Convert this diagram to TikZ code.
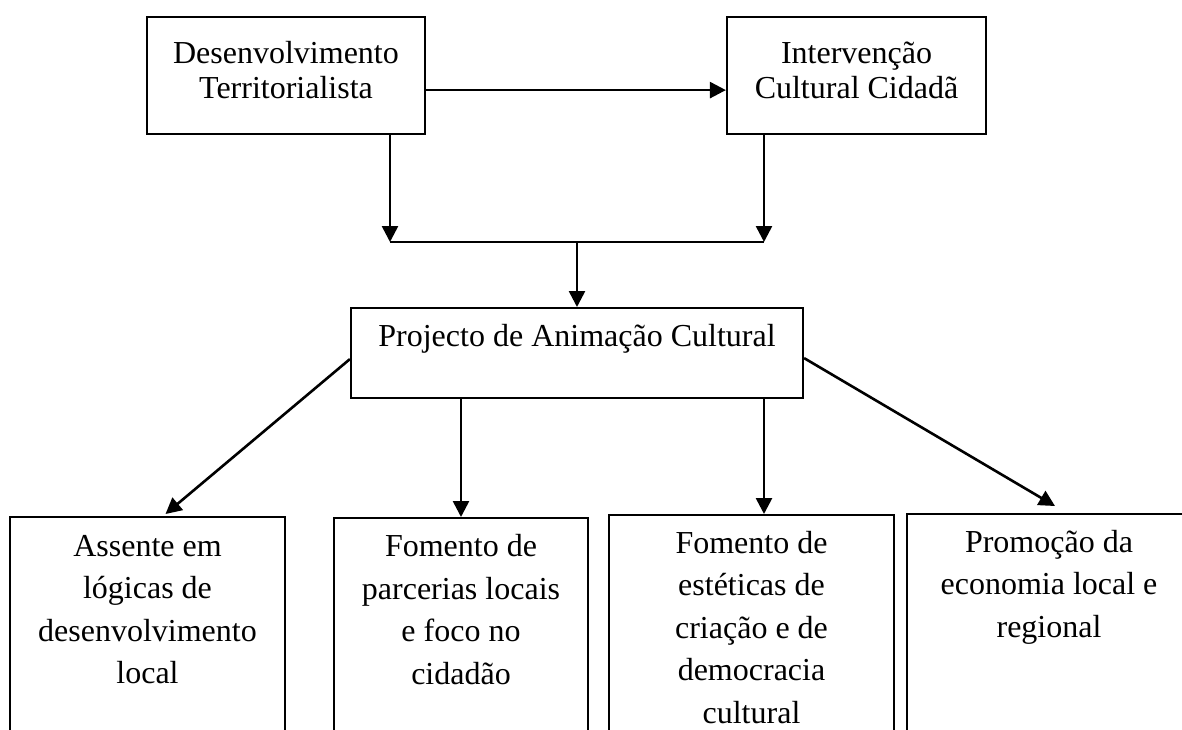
\documentclass[tikz,border=0pt]{standalone}
\usepackage{fontspec}
\setmainfont{Liberation Serif}
\usetikzlibrary{arrows.meta}
\tikzset{
  box/.style={draw, line width=1.1pt, inner sep=0pt, anchor=north},
  toptext/.style={align=center, anchor=base, inner sep=0pt, font=\fontsize{16}{17.5}\selectfont},
  boxtext/.style={align=center, anchor=base, inner sep=0pt, font=\fontsize{16}{21.25}\selectfont},
  arr/.style={line width=1.3pt, -{Triangle[length=8pt,width=8pt]}}
}

\begin{document}
\begin{tikzpicture}[x=0.5pt, y=-0.5pt]
  \clip (0,0) rectangle (1182,729);
  \fill[white] (0,0) rectangle (1182,729);

  % top row (text placed by its last baseline)
  \node[box, minimum width=139pt, minimum height=58.5pt] (terr) at (286,16) {};
  \node[box, minimum width=129.5pt, minimum height=58.5pt] (interv) at (856.5,16) {};
  \node[toptext] (terrtxt) at ([yshift=-41pt]terr.north) {Desenvolvimento\\Territorialista};
  \node[toptext] (intervtxt) at ([yshift=-41pt]interv.north) {Intervenção\\Cultural Cidadã};

  % middle
  \node[box, minimum width=226pt, minimum height=45pt] (proj) at (577,307) {};
  \node[boxtext] (projtxt) at ([yshift=-19.5pt]proj.north) {Projecto de Animação Cultural};

  % bottom row
  \node[box, minimum width=137.5pt, minimum height=140pt] (assente) at (147.5,516) {};
  \node[box, minimum width=127pt, minimum height=140pt] (parcerias) at (461,517) {};
  \node[box, minimum width=142.5pt, minimum height=140pt] (esteticas) at (751.5,514) {};
  \node[box, minimum width=142pt, minimum height=140pt] (economia) at (1049,513) {};
  \node[boxtext] (assentetxt) at ([yshift=-83.75pt]assente.north) {Assente em\\lógicas de\\desenvolvimento\\local};
  \node[boxtext] (parceriastxt) at ([yshift=-83.5pt]parcerias.north) {Fomento de\\parcerias locais\\e foco no\\cidadão};
  \node[boxtext] (esteticastxt) at ([yshift=-104.5pt]esteticas.north) {Fomento de\\estéticas de\\criação e de\\democracia\\cultural};
  \node[boxtext] (economiatxt) at ([yshift=-62pt]economia.north) {Promoção da\\economia local e\\regional};

  % connectors
  \coordinate (jl) at (390,242);
  \coordinate (jr) at (764,242);
  \draw[arr] ([yshift=-7.25pt]terr.east) -- ([yshift=-7.25pt]interv.west);
  \draw[arr] (terr.south -| jl) -- (jl);
  \draw[arr] (interv.south -| jr) -- (jr);
  \draw[line width=1.3pt] (jl) -- (jr);
  \draw[arr] (proj.north |- jl) -- (proj.north);
  \draw[arr] ([yshift=-3pt]proj.west) -- ([xshift=9pt,yshift=1pt]assente.north);
  \draw[arr] (proj.south -| parcerias.north) -- (parcerias.north);
  \draw[arr] (proj.south -| jr) -- (esteticas.north -| jr);
  \draw[arr] ([yshift=-2.5pt]proj.east) -- ([xshift=3pt,yshift=3.5pt]economia.north);
\end{tikzpicture}
\end{document}
